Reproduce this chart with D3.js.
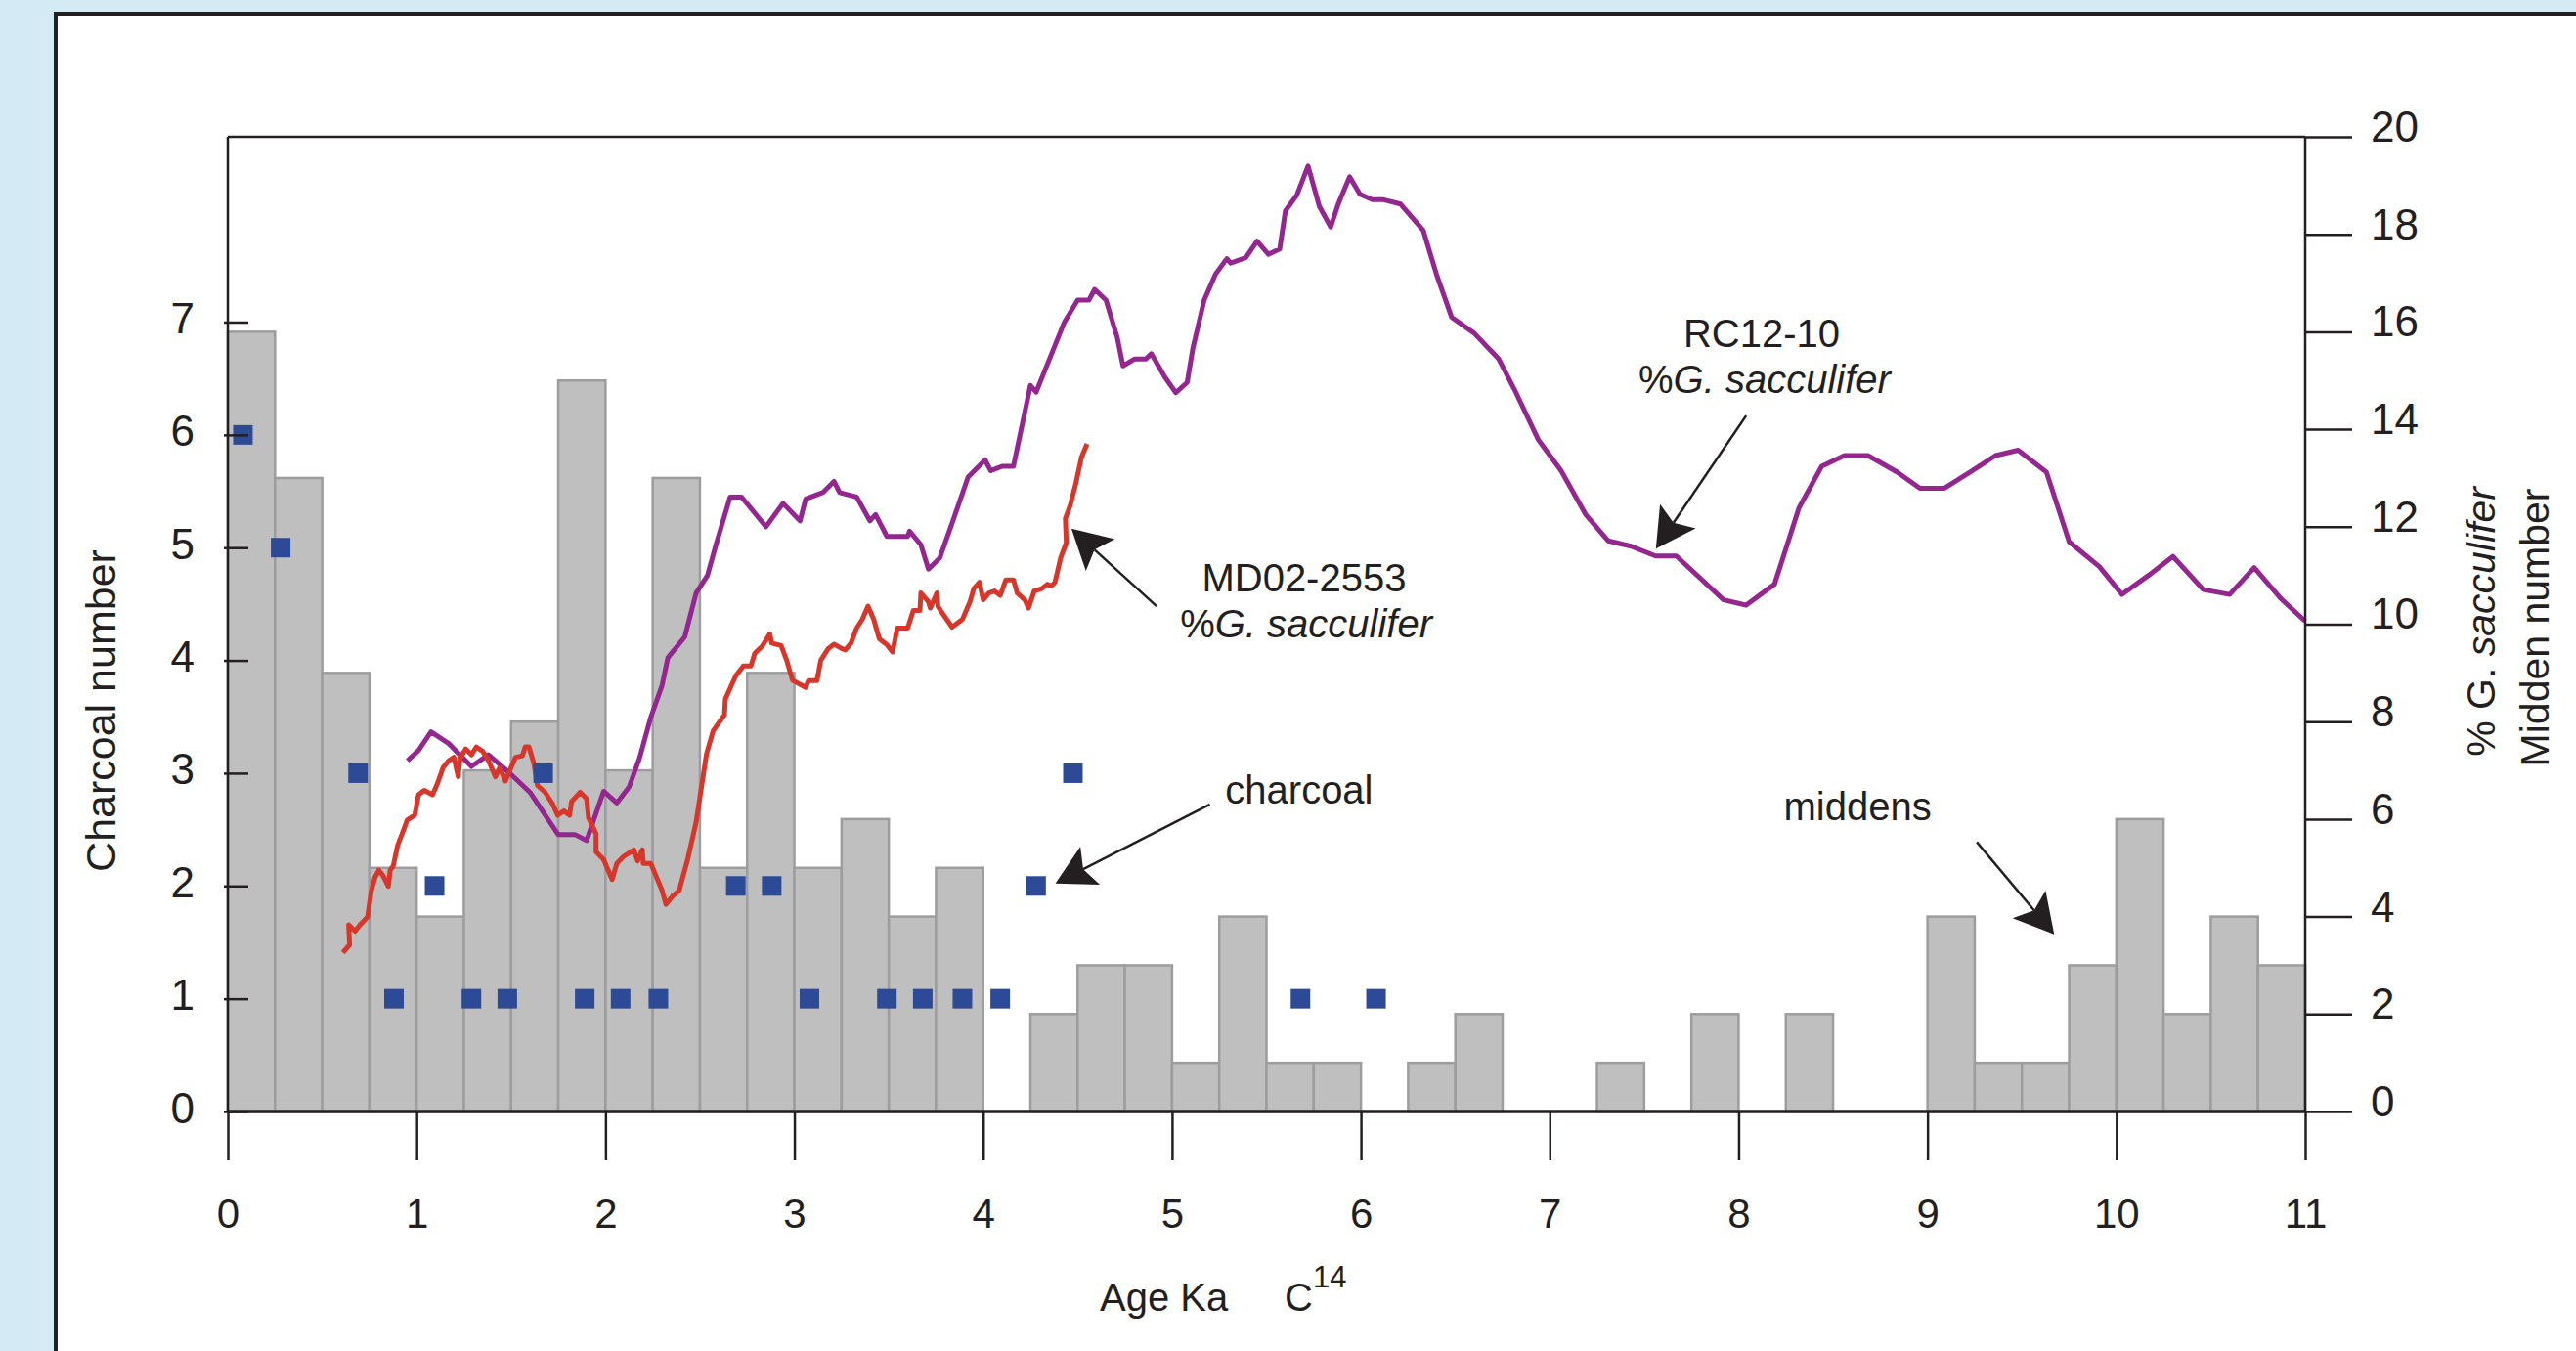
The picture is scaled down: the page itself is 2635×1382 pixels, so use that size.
<!DOCTYPE html>
<html>
<head>
<meta charset="utf-8">
<script src="https://cdn.jsdelivr.net/npm/d3@7"></script>
<style>
  body { margin: 0; background: #d4ebf5; }
  text { font-family: "Liberation Sans", Arial, sans-serif; fill: #231f20; }
</style>
</head>
<body>
<div id="chart"></div>
<script>
let width = 2635, height = 1382;

// middens per 0.25 ka bin (right axis)
const binStart = d3.range(0, 11, 0.25);
const middenCount = [16,13,9,5,4,7,8,15,7,13,5,9,5,6,4,5,0,2,3,3,1,4,1,1,0,1,2,0,0,1,0,2,0,2,0,0,4,1,1,3,6,2,4,3];

// charcoal (left axis)
const charcoalAge = [0.08,0.28,0.69,0.88,1.095,1.29,1.48,1.67,1.89,2.08,2.28,2.69,2.88,3.08,3.49,3.68,3.89,4.09,4.28,4.475,5.68,6.08];
const charcoalNum = [6,5,3,1,2,1,1,3,1,1,1,2,2,1,1,1,1,1,2,3,1,1];

// RC12-10 %G. sacculifer [age, %]
const rc1210 = [[0.951,7.2],[1.01,7.41],[1.076,7.79],[1.17,7.55],[1.29,7.08],[1.38,7.32],[1.485,6.97],[1.6,6.55],[1.75,5.68],[1.84,5.68],[1.9,5.56],[1.99,6.57],[2.06,6.33],[2.125,6.66],[2.18,7.25],[2.24,8.09],[2.3,8.75],[2.33,9.31],[2.42,9.74],[2.48,10.64],[2.54,11.0],[2.585,11.63],[2.66,12.61],[2.72,12.61],[2.85,12.0],[2.94,12.48],[3.03,12.12],[3.06,12.57],[3.15,12.7],[3.21,12.93],[3.24,12.7],[3.33,12.61],[3.4,12.12],[3.43,12.25],[3.49,11.8],[3.6,11.8],[3.61,11.91],[3.67,11.63],[3.71,11.13],[3.77,11.36],[3.835,12.07],[3.92,13.02],[4.01,13.37],[4.04,13.15],[4.1,13.24],[4.16,13.24],[4.25,14.9],[4.28,14.76],[4.355,15.48],[4.43,16.2],[4.5,16.65],[4.56,16.65],[4.59,16.87],[4.65,16.65],[4.71,15.88],[4.74,15.3],[4.8,15.44],[4.86,15.44],[4.89,15.55],[4.96,15.08],[5.02,14.75],[5.08,14.96],[5.11,15.66],[5.17,16.65],[5.23,17.18],[5.29,17.5],[5.31,17.41],[5.39,17.52],[5.45,17.86],[5.51,17.59],[5.57,17.7],[5.6,18.48],[5.66,18.8],[5.72,19.4],[5.78,18.57],[5.84,18.15],[5.88,18.62],[5.94,19.18],[5.995,18.82],[6.06,18.71],[6.12,18.71],[6.21,18.62],[6.33,18.08],[6.4,17.18],[6.48,16.3],[6.6,15.97],[6.73,15.44],[6.82,14.76],[6.94,13.78],[7.06,13.15],[7.19,12.25],[7.31,11.71],[7.43,11.6],[7.56,11.4],[7.67,11.4],[7.92,10.5],[8.04,10.39],[8.19,10.82],[8.32,12.39],[8.44,13.24],[8.56,13.46],[8.685,13.46],[8.84,13.12],[8.96,12.79],[9.09,12.79],[9.23,13.13],[9.36,13.46],[9.48,13.57],[9.63,13.12],[9.75,11.69],[9.91,11.18],[10.03,10.61],[10.17,11.0],[10.3,11.39],[10.46,10.71],[10.6,10.61],[10.73,11.16],[10.87,10.53],[11.0,10.06]];

// MD02-2553 %G. sacculifer [age, %]
const md022553 = [[0.609,3.26],[0.645,3.42],[0.64,3.83],[0.674,3.7],[0.7,3.83],[0.74,3.99],[0.76,4.53],[0.78,4.81],[0.8,4.95],[0.82,4.85],[0.85,4.62],[0.86,4.95],[0.876,5.04],[0.9,5.47],[0.93,5.77],[0.95,5.98],[0.99,6.08],[1.01,6.5],[1.04,6.59],[1.084,6.5],[1.11,6.73],[1.14,7.06],[1.17,7.2],[1.197,7.27],[1.22,6.87],[1.23,7.25],[1.26,7.44],[1.29,7.32],[1.316,7.48],[1.35,7.39],[1.38,7.2],[1.417,6.87],[1.44,7.06],[1.47,6.78],[1.5,7.06],[1.524,7.27],[1.56,7.3],[1.575,7.48],[1.595,7.48],[1.62,7.15],[1.64,6.69],[1.68,6.55],[1.72,6.31],[1.747,6.08],[1.78,6.17],[1.81,6.08],[1.82,6.36],[1.866,6.55],[1.9,6.42],[1.91,6.03],[1.95,5.7],[1.95,5.33],[1.99,5.17],[2.035,4.76],[2.06,5.09],[2.095,5.23],[2.15,5.37],[2.17,5.14],[2.195,5.37],[2.2,5.09],[2.24,5.09],[2.27,4.81],[2.3,4.53],[2.32,4.25],[2.36,4.44],[2.39,4.53],[2.436,5.19],[2.48,5.94],[2.535,7.34],[2.57,7.81],[2.63,8.14],[2.635,8.47],[2.69,8.94],[2.73,9.14],[2.77,9.14],[2.79,9.4],[2.83,9.55],[2.87,9.8],[2.88,9.61],[2.93,9.56],[2.96,9.25],[2.99,8.85],[3.06,8.7],[3.075,8.84],[3.12,8.84],[3.14,9.26],[3.18,9.5],[3.21,9.59],[3.25,9.5],[3.27,9.47],[3.3,9.61],[3.33,9.92],[3.36,10.1],[3.39,10.37],[3.42,10.1],[3.45,9.7],[3.49,9.58],[3.52,9.43],[3.545,9.92],[3.6,9.92],[3.63,10.28],[3.665,10.28],[3.67,10.64],[3.71,10.46],[3.72,10.33],[3.755,10.64],[3.76,10.37],[3.79,10.19],[3.835,9.94],[3.89,10.1],[3.93,10.46],[3.95,10.73],[3.98,10.86],[4.0,10.5],[4.03,10.64],[4.06,10.68],[4.09,10.59],[4.12,10.91],[4.16,10.91],[4.18,10.64],[4.22,10.5],[4.24,10.33],[4.27,10.68],[4.31,10.73],[4.34,10.82],[4.36,10.78],[4.38,10.86],[4.41,11.36],[4.44,11.67],[4.435,12.17],[4.46,12.43],[4.49,12.88],[4.52,13.42],[4.55,13.7]];

const xTicks = d3.range(0, 12);
const leftTicks = d3.range(0, 8);
const rightTicks = d3.range(0, 22, 2);

let x = d3.scaleLinear().domain([0, 11]).range([233, 2358]);
let yL = d3.scaleLinear().domain([0, 7]).range([1137, 329.5]);
let yR = d3.scaleLinear().domain([0, 20]).range([1137, 140]);

const ink = "#231f20";

let svg = d3.select("#chart").append("svg")
  .attr("width", width).attr("height", height)
  .style("display", "block");

// white panel with dark frame
svg.append("rect")
  .attr("x", 57).attr("y", 14)
  .attr("width", 2800).attr("height", 1600)
  .attr("fill", "#fff").attr("stroke", ink).attr("stroke-width", 4);

// midden bars
svg.append("g").selectAll("rect")
  .data(binStart.map((b, i) => ({b: b, n: middenCount[i]})).filter(d => d.n > 0))
  .join("rect")
    .attr("x", d => x(d.b))
    .attr("y", d => yR(d.n))
    .attr("width", d => x(d.b + 0.25) - x(d.b))
    .attr("height", d => yR(0) - yR(d.n))
    .attr("fill", "#bfbfbf")
    .attr("stroke", "#9d9d9f")
    .attr("stroke-width", 2.5);

let line = d3.line().x(d => x(d[0])).y(d => yR(d[1]));

svg.append("path")
  .attr("d", line(rc1210))
  .attr("fill", "none").attr("stroke", "#93278f")
  .attr("stroke-width", 5).attr("stroke-linejoin", "round");

svg.append("path")
  .attr("d", line(md022553))
  .attr("fill", "none").attr("stroke", "#d7372b")
  .attr("stroke-width", 5).attr("stroke-linejoin", "round");

// charcoal squares
svg.append("g").selectAll("rect")
  .data(charcoalAge.map((a, i) => [a, charcoalNum[i]]))
  .join("rect")
    .attr("x", d => x(d[0]) - 10)
    .attr("y", d => yL(d[1]) - 10)
    .attr("width", 20).attr("height", 20)
    .attr("fill", "#2d4a97");

// plot frame
let frame = svg.append("g").attr("stroke", ink).attr("stroke-width", 2.5);
frame.append("line").attr("x1", x(0)).attr("x2", x(11)).attr("y1", yR(20)).attr("y2", yR(20));
frame.append("line").attr("x1", x(0)).attr("x2", x(0)).attr("y1", yR(20)).attr("y2", yR(0));
frame.append("line").attr("x1", x(11)).attr("x2", x(11)).attr("y1", yR(20)).attr("y2", yR(0));
frame.append("line").attr("x1", x(0)).attr("x2", x(11)).attr("y1", yR(0)).attr("y2", yR(0)).attr("stroke-width", 3.5);

// axes
let gx = svg.append("g").attr("transform", `translate(0,${yR(0)})`)
  .call(d3.axisBottom(x).tickValues(xTicks).tickSize(50).tickFormat(d3.format("d")));
gx.select(".domain").remove();
gx.selectAll("line").attr("stroke", ink).attr("stroke-width", 2.5);
gx.selectAll("text").attr("y", 119).attr("dy", 0)
  .style("font-size", "42px").attr("fill", ink);

let gl = svg.append("g").attr("transform", `translate(${x(0)},0)`)
  .call(d3.axisLeft(yL).tickValues(leftTicks).tickSize(4).tickPadding(30).tickFormat(d3.format("d")));
gl.select(".domain").remove();
gl.selectAll("line").attr("x1", 21).attr("stroke", ink).attr("stroke-width", 2.5);
gl.selectAll("text").attr("dy", "0.25em").style("font-size", "44px").attr("fill", ink);

let gr = svg.append("g").attr("transform", `translate(${x(11)},0)`)
  .call(d3.axisRight(yR).tickValues(rightTicks).tickSize(48).tickPadding(19).tickFormat(d3.format("d")));
gr.select(".domain").remove();
gr.selectAll("line").attr("stroke", ink).attr("stroke-width", 2.5);
gr.selectAll("text").attr("dy", "0.1em").style("font-size", "44px").attr("fill", ink);

// axis titles
svg.append("text")
  .attr("transform", "translate(118,727) rotate(-90)")
  .attr("text-anchor", "middle")
  .style("font-size", "43px")
  .text("Charcoal number");

let rt = svg.append("text")
  .attr("transform", "translate(2552,636) rotate(-90)")
  .attr("text-anchor", "middle")
  .style("font-size", "41px");
rt.append("tspan").text("% G. ");
rt.append("tspan").style("font-style", "italic").text("sacculifer");

svg.append("text")
  .attr("transform", "translate(2607,642) rotate(-90)")
  .attr("text-anchor", "middle")
  .style("font-size", "41px")
  .text("Midden number");

let xt = svg.append("text")
  .attr("x", 1125).attr("y", 1341)
  .style("font-size", "40px");
xt.append("tspan").text("Age Ka");
xt.append("tspan").attr("x", 1314).text("C");
xt.append("tspan").attr("dy", -24).style("font-size", "31px").text("14");

// annotations (positions in data units of x / right axis)
function label(ax, ay, lines) {
  let t = svg.append("text")
    .attr("x", x(ax)).attr("y", yR(ay))
    .attr("text-anchor", "middle")
    .style("font-size", "40px");
  lines.forEach(s => t.append("tspan").style("font-style", s[1] ? "italic" : "normal").text(s[0]));
  return t;
}

label(8.122, 15.69, [["RC12-10"]]);
label(8.137, 14.74, [["%"], ["G. sacculifer", true]]);
label(5.699, 10.67, [["MD02-2553"]]);
label(5.71, 9.73, [["%"], ["G. sacculifer", true]]);
label(5.673, 6.32, [["charcoal"]]);
label(8.63, 5.98, [["middens"]]);

function arrow(tail, tip) {
  let x0 = x(tail[0]), y0 = yR(tail[1]), x1 = x(tip[0]), y1 = yR(tip[1]);
  let len = Math.hypot(x1 - x0, y1 - y0);
  let ux = (x1 - x0) / len, uy = (y1 - y0) / len;
  let nx = -uy, ny = ux;
  let L = 40, W = 22, N = 32;
  let bx = x1 - ux * N, by = y1 - uy * N;
  svg.append("line")
    .attr("x1", x0).attr("y1", y0).attr("x2", bx).attr("y2", by)
    .attr("stroke", ink).attr("stroke-width", 2.5);
  svg.append("path")
    .attr("d", `M${x1},${y1}L${x1 - ux * L + nx * W},${y1 - uy * L + ny * W}L${bx},${by}L${x1 - ux * L - nx * W},${y1 - uy * L - ny * W}Z`)
    .attr("fill", ink);
}

arrow([8.04, 14.28], [7.562, 11.55]);
arrow([4.918, 10.37], [4.467, 11.96]);
arrow([5.20, 6.30], [4.382, 4.68]);
arrow([9.261, 5.53], [9.671, 3.635]);
</script>
</body>
</html>
